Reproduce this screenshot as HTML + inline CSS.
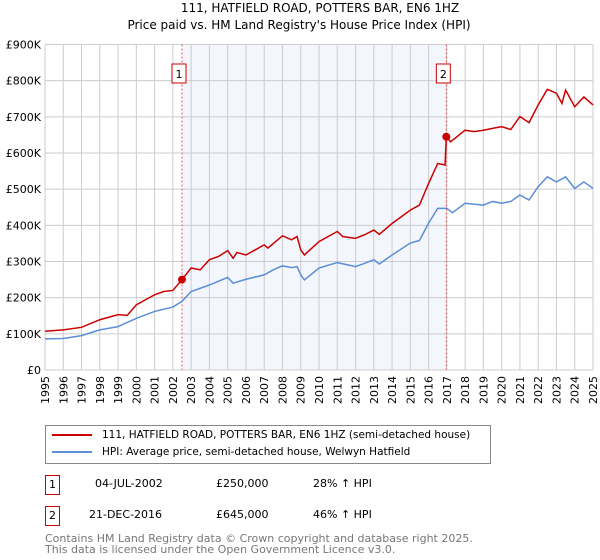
<!DOCTYPE html>
<html><head><meta charset="utf-8"><style>
body{margin:0;background:#fff;font-family:"DejaVu Sans","Liberation Sans",sans-serif;}
#wrap{position:relative;width:600px;height:560px;overflow:hidden;}
.t{position:absolute;white-space:nowrap;}
svg text{font-family:"DejaVu Sans","Liberation Sans",sans-serif;}
</style></head><body>
<div id="wrap">
<div class="t" style="left:0;width:640px;text-align:center;top:1px;font-size:12px;">111, HATFIELD ROAD, POTTERS BAR, EN6 1HZ</div>
<div class="t" style="left:0;width:598px;text-align:center;top:18px;font-size:12px;">Price paid vs. HM Land Registry's House Price Index (HPI)</div>
<svg id="chart" width="600" height="420" style="position:absolute;left:0;top:0"></svg>
<div style="position:absolute;left:45px;top:425px;width:444px;height:37px;border:1px solid #888;font-size:10.5px;">
 <div style="position:absolute;left:6px;top:3px;"><span style="display:inline-block;width:40px;height:2px;background:#cc0000;vertical-align:middle;margin-right:10px"></span>111, HATFIELD ROAD, POTTERS BAR, EN6 1HZ (semi-detached house)</div>
 <div style="position:absolute;left:6px;top:20px;"><span style="display:inline-block;width:40px;height:2px;background:#5b8ed6;vertical-align:middle;margin-right:10px"></span>HPI: Average price, semi-detached house, Welwyn Hatfield</div>
</div>
<div style="font-size:11px;">
 <div class="t" style="left:45px;top:475px;width:13px;height:18px;border:1px solid #cc0000;text-align:center;line-height:18px;">1</div>
 <div class="t" style="left:95px;top:477px;">04-JUL-2002</div>
 <div class="t" style="left:216px;top:477px;">£250,000</div>
 <div class="t" style="left:313px;top:477px;">28% ↑ HPI</div>
</div>
<div style="font-size:11px;">
 <div class="t" style="left:45px;top:506px;width:13px;height:18px;border:1px solid #cc0000;text-align:center;line-height:18px;">2</div>
 <div class="t" style="left:89px;top:508px;">21-DEC-2016</div>
 <div class="t" style="left:216px;top:508px;">£645,000</div>
 <div class="t" style="left:313px;top:508px;">46% ↑ HPI</div>
</div>
<div class="t" style="left:45px;top:533px;font-size:11px;color:#777;line-height:11px;">Contains HM Land Registry data © Crown copyright and database right 2025.<br>This data is licensed under the Open Government Licence v3.0.</div>
</div>
<script>
const yearTicks=[1995,1996,1997,1998,1999,2000,2001,2002,2003,2004,2005,2006,2007,2008,2009,2010,2011,2012,2013,2014,2015,2016,2017,2018,2019,2020,2021,2022,2023,2024,2025];
const priceTicks=[0,100,200,300,400,500,600,700,800,900];
const priceLabels=["£0","£100K","£200K","£300K","£400K","£500K","£600K","£700K","£800K","£900K"];
const redT=[1995,1996,1997,1998,1999,1999.5,2000,2001,2001.5,2002,2002.5,2003,2003.5,2004,2004.5,2005,2005.3,2005.5,2006,2006.5,2007,2007.2,2008,2008.5,2008.8,2009,2009.2,2010,2011,2011.3,2012,2012.5,2013,2013.3,2014,2015,2015.5,2016,2016.5,2016.9,2016.97,2017.2,2018,2018.5,2019,2019.5,2020,2020.5,2021,2021.5,2022,2022.5,2023,2023.3,2023.5,2024,2024.5,2025];
const redV=[107,111,118,139,153,151,180,208,217,220,250,282,277,305,314,330,309,325,318,332,346,337,371,360,369,332,318,355,383,369,364,374,387,375,405,442,456,516,571,567,645,631,663,659,663,668,673,665,701,684,733,776,765,737,774,728,755,733];
const blueT=[1995,1996,1997,1998,1999,2000,2001,2002,2002.5,2003,2004,2005,2005.3,2006,2007,2007.5,2008,2008.5,2008.8,2009,2009.2,2010,2011,2012,2012.5,2013,2013.3,2014,2015,2015.5,2016,2016.5,2017,2017.3,2018,2019,2019.5,2020,2020.5,2021,2021.5,2022,2022.5,2023,2023.5,2024,2024.5,2025];
const blueV=[86,87,95,111,120,143,162,174,190,217,235,256,240,251,263,277,288,283,286,263,249,282,297,286,295,305,293,318,351,358,406,447,447,435,461,456,466,461,466,484,470,507,534,520,534,502,520,502];
const saleT=[2002.5,2016.97];
const saleV=[250,645];
const saleLabels=["1","2"];
const X0=45,X1=593,Y0=370,Y1=44.5;
const xs=t=>X0+(t-1995)/30*(X1-X0);
const ys=v=>Y0-v/900*(Y0-Y1);
const svg=document.getElementById('chart');
const NS='http://www.w3.org/2000/svg';
function mk(tag,attrs){const e=document.createElementNS(NS,tag);for(const k in attrs)e.setAttribute(k,attrs[k]);svg.appendChild(e);return e;}
let shade=mk('rect',{x:xs(saleT[0]),y:Y1,width:xs(saleT[1])-xs(saleT[0]),height:Y0-Y1,fill:'#f0f4fd',opacity:0.8});


yearTicks.forEach(y=>{
 const l=mk('line',{x1:xs(y),x2:xs(y),y1:Y1,y2:Y0,stroke:'#ccc','stroke-width':1});
 
 
 const t=mk('text',{x:0,y:0,'font-size':11,'text-anchor':'end',transform:`translate(${xs(y)+4},${Y0+6}) rotate(-90)`});
 t.textContent=y;
 
 
});
priceTicks.forEach((v,i)=>{
 const l=mk('line',{x1:X0,x2:X1,y1:ys(v),y2:ys(v),stroke:'#ccc','stroke-width':1});
 
 
 const t=mk('text',{x:41,y:ys(v)+4,'font-size':11,'text-anchor':'end'});
 t.textContent=priceLabels[i];
 
 
});
saleT.forEach((s,i)=>{
 const l=mk('line',{x1:xs(s),x2:xs(s),y1:Y1,y2:Y0,stroke:'#ee5555','stroke-width':1,'stroke-dasharray':'2,2'});
 
 
 const r=mk('rect',{x:xs(s)-10,y:64,width:14,height:19,fill:'#fff',stroke:'#cc0000'});
 
 
 const t=mk('text',{x:xs(s)-3,y:78,'font-size':11,'text-anchor':'middle'});
 t.textContent=saleLabels[i];
 
 
});
const bl=mk('polyline',{points:blueT.map((t,i)=>xs(t)+','+ys(blueV[i])).join(' '),fill:'none',stroke:'#5b8ed6','stroke-width':1.5});


const rl=mk('polyline',{points:redT.map((t,i)=>xs(t)+','+ys(redV[i])).join(' '),fill:'none',stroke:'#cc0000','stroke-width':1.5});


saleT.forEach((s,i)=>{
 const c=mk('circle',{cx:xs(s),cy:ys(saleV[i]),r:4,fill:'#cc0000'});
 
 
});
</script>
</body></html>
